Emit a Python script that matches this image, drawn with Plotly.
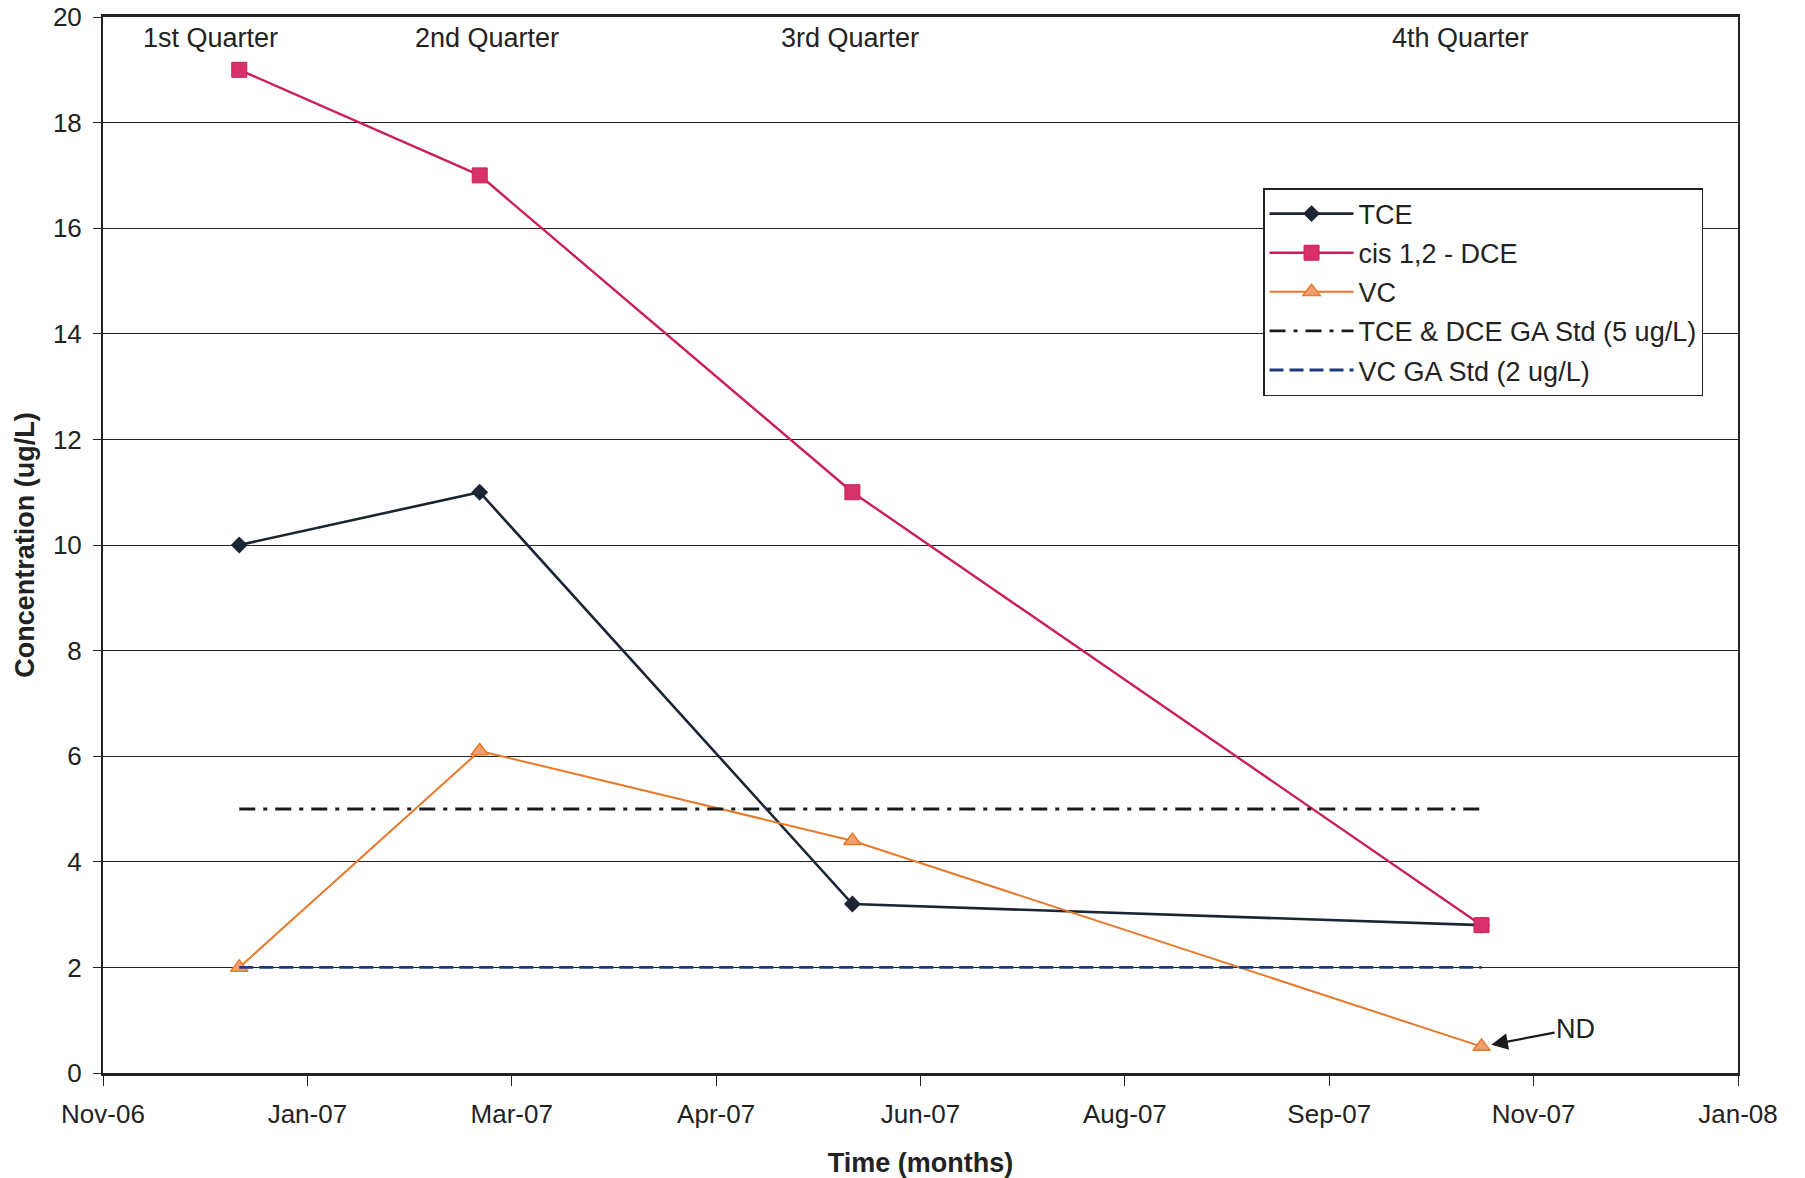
import plotly.graph_objects as go

# ---- data ----
sample_dates = ["2006-12-24", "2007-02-22", "2007-05-26", "2007-10-30"]
tce = [10, 11, 3.2, 2.8]
dce = [19, 17, 11, 2.8]
vc = [2, 6.1, 4.4, 0.5]
std_tce_dce = [5, 5, 5, 5]
std_vc = [2, 2, 2, 2]
tick_dates = ["2006-11-20", "2007-01-10", "2007-03-02", "2007-04-22", "2007-06-12",
              "2007-08-02", "2007-09-22", "2007-11-12", "2008-01-02"]
tick_labels = ["Nov-06", "Jan-07", "Mar-07", "Apr-07", "Jun-07", "Aug-07", "Sep-07", "Nov-07", "Jan-08"]
quarter_labels = ["1st Quarter", "2nd Quarter", "3rd Quarter", "4th Quarter"]

FONT = "Liberation Sans, Arial, sans-serif"
FS = 27

fig = go.Figure()
fig.add_trace(go.Scatter(x=sample_dates, y=tce, name="TCE", mode="lines+markers", legendgroup="a",
                         line=dict(color="#1c2533", width=2.6),
                         marker=dict(symbol="diamond", size=13, color="#1c2533")))
fig.add_trace(go.Scatter(x=sample_dates, y=dce, name="cis 1,2 - DCE", mode="lines+markers", legendgroup="b",
                         line=dict(color="#c8205a", width=2.4),
                         marker=dict(symbol="square", size=15, color="#d8306a",
                                     line=dict(color="#c8205a", width=1))))
fig.add_trace(go.Scatter(x=sample_dates, y=vc, name="VC", mode="lines+markers", legendgroup="c",
                         line=dict(color="#e8792a", width=2),
                         marker=dict(symbol="triangle-up", size=15, color="#f0a070",
                                     line=dict(color="#e8792a", width=1.5))))
fig.add_trace(go.Scatter(x=sample_dates, y=std_tce_dce, name="TCE & DCE GA Std (5 ug/L)", mode="lines",
                         legendgroup="d",
                         line=dict(color="#1a1a1a", width=2.8, dash="16px,8px,4px,8px")))
fig.add_trace(go.Scatter(x=sample_dates, y=std_vc, name="VC GA Std (2 ug/L)", mode="lines",
                         legendgroup="e",
                         line=dict(color="#1f3a7a", width=2.8, dash="14px,6px")))

quarter_x = [0.066, 0.235, 0.457, 0.830]
annotations = []
for lbl, qx in zip(quarter_labels, quarter_x):
    annotations.append(dict(text=lbl, xref="paper", yref="paper", x=qx, y=0.98,
                            showarrow=False, xanchor="center", yanchor="middle",
                            font=dict(family=FONT, size=FS, color="#222")))
annotations.append(dict(text="ND", x=sample_dates[3], y=vc[3], xref="x", yref="y",
                        showarrow=True, ax=94, ay=-18, arrowhead=2, arrowsize=1.5,
                        arrowwidth=2.2, arrowcolor="#1a1a1a", standoff=10,
                        font=dict(family=FONT, size=FS, color="#222")))

fig.update_layout(
    width=1805, height=1178,
    margin=dict(l=103, r=67, t=17, b=105),
    paper_bgcolor="white", plot_bgcolor="white",
    font=dict(family=FONT, size=FS, color="#222"),
    showlegend=True,
    legend=dict(x=0.7095, y=0.838, xanchor="left", yanchor="top",
                bordercolor="#222", borderwidth=1.5, bgcolor="white",
                font=dict(family=FONT, size=FS, color="#222"),
                itemwidth=84, tracegroupgap=1),
    annotations=annotations,
    xaxis=dict(type="date", range=[tick_dates[0], tick_dates[-1]],
               tickvals=tick_dates, ticktext=tick_labels, automargin=False,
               showgrid=False, ticks="outside", ticklen=10, tickcolor="#222",
               ticklabelstandoff=6,
               showline=True, linecolor="#222", linewidth=2.5, mirror=True,
               tickfont=dict(family=FONT, size=26, color="#222"),
               title=dict(text="<b>Time (months)</b>", standoff=27,
                          font=dict(family=FONT, size=27, color="#222"))),
    yaxis=dict(range=[0, 20], dtick=2, showgrid=True, gridcolor="#222", gridwidth=1,
               ticks="outside", ticklen=8, tickcolor="#222", automargin=False,
               ticklabelstandoff=6,
               showline=True, linecolor="#222", linewidth=2, mirror=True,
               zeroline=False,
               tickfont=dict(family=FONT, size=26, color="#222"),
               title=dict(text="<b>Concentration (ug/L)</b>", standoff=10,
                          font=dict(family=FONT, size=27, color="#222"))),
)

fig.write_html("out.html")
